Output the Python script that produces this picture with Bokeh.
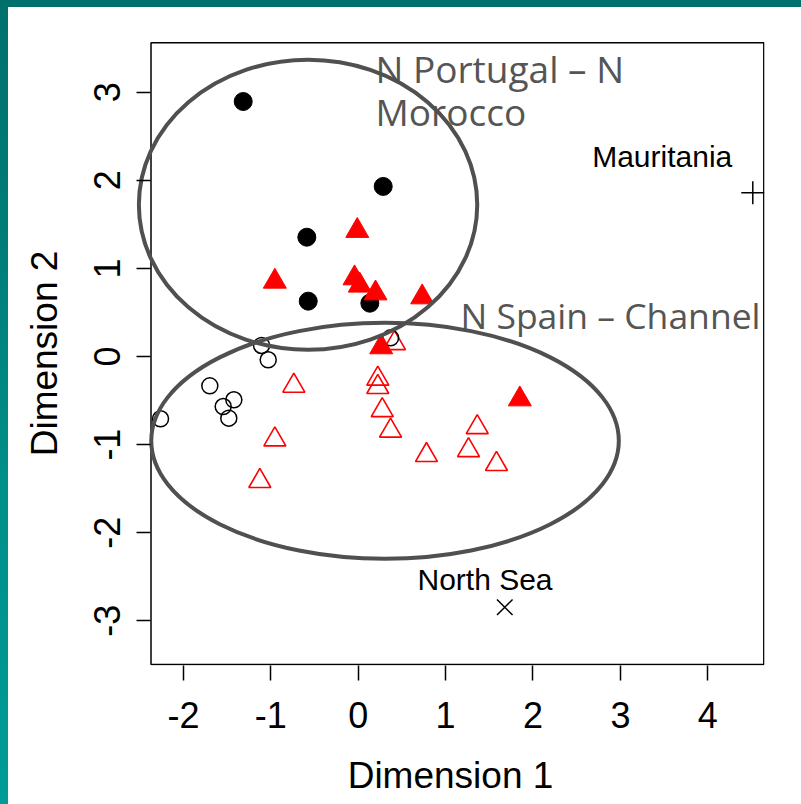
from bokeh.plotting import figure
from bokeh.layouts import column
from bokeh.models import Range1d
from bokeh.core.properties import value
from bokeh.embed import file_html
from bokeh.resources import INLINE

# Sample scores on the first two dimensions
filled_circle_x = [-1.316, 0.286, -0.588, -0.572, 0.133]
filled_circle_y = [2.894, 1.930, 1.354, 0.628, 0.605]

open_circle_x = [-1.106, -1.030, 0.370, -1.698, -1.423, -1.545, -1.481, -2.262]
open_circle_y = [0.125, -0.037, 0.212, -0.333, -0.491, -0.568, -0.700, -0.707]

filled_tri_x = [-0.011, -0.954, -0.042, 0.018, 0.198, 0.732, 0.263, 1.849]
filled_tri_y = [1.427, 0.851, 0.889, 0.806, 0.718, 0.673, 0.106, -0.485]

open_tri_x = [0.415, -0.737, 0.224, 0.224, 0.275, 0.370, -0.954, -1.126, 0.781, 1.362, 1.262, 1.582]
open_tri_y = [0.150, -0.333, -0.253, -0.348, -0.610, -0.843, -0.942, -1.415, -1.120, -0.803, -1.064, -1.222]

mauritania_x, mauritania_y = [4.515], [1.858]
north_sea_x, north_sea_y = [1.677], [-2.846]

# Group ellipses: centre and full widths/heights
ellipse_cx = [-0.574, 0.307]
ellipse_cy = [1.722, -0.957]
ellipse_w = [3.872, 5.350]
ellipse_h = [3.292, 2.678]

x_ticks = [-2, -1, 0, 1, 2, 3, 4]
y_ticks = [-3, -2, -1, 0, 1, 2, 3]

# Plot region (the boxed area); the canvas frame reaches a little further left
# so the upper ellipse can run past the box edge
box_left, box_right = -2.371, 4.641
box_bottom, box_top = -3.496, 3.561

p = figure(width=793, height=797, output_backend="svg", toolbar_location=None,
           x_range=Range1d(-2.537, 4.649), y_range=Range1d(-3.507, 3.575),
           min_border_left=128, min_border_right=37, min_border_top=34, min_border_bottom=139)

p.background_fill_color = "white"
p.border_fill_color = "white"
p.outline_line_color = None
p.grid.visible = False
p.styles = {"background-color": "white"}

font = "Liberation Sans"
for ax in (p.xaxis[0], p.yaxis[0]):
    ax.axis_line_color = None
    ax.minor_tick_line_color = None
    ax.major_tick_line_color = "black"
    ax.major_tick_line_width = 1.5
    ax.major_label_text_font = font
    ax.major_label_text_font_size = "36px"
    ax.major_label_text_color = "black"
    ax.axis_label_text_font = font
    ax.axis_label_text_font_size = "37px"
    ax.axis_label_text_font_style = "normal"
    ax.axis_label_text_color = "black"

p.xaxis.ticker = x_ticks
p.yaxis.ticker = y_ticks
p.xaxis.major_label_overrides = {t: str(t) for t in x_ticks}
p.yaxis.major_label_overrides = {t: str(t) for t in y_ticks}
p.xaxis.major_tick_out = 15
p.xaxis.major_tick_in = 0
p.yaxis.major_tick_out = 0
p.yaxis.major_tick_in = 14
p.xaxis.major_label_standoff = 21
p.yaxis.major_label_standoff = 16
p.yaxis.major_label_orientation = "vertical"
p.xaxis.axis_label = "Dimension 1"
p.yaxis.axis_label = "Dimension 2"
p.xaxis.axis_label_standoff = 24
p.yaxis.axis_label_standoff = 27

# Box around the plot region
p.quad(left=[box_left], right=[box_right], bottom=[box_bottom], top=[box_top],
       fill_color=None, line_color="black", line_width=1.5)

# Points
p.scatter(open_tri_x, open_tri_y, marker="triangle", size=22, fill_color=None,
          line_color="red", line_width=1.6)
p.scatter(open_circle_x, open_circle_y, marker="circle", size=16, fill_color=None,
          line_color="black", line_width=1.5)
p.scatter(filled_circle_x, filled_circle_y, marker="circle", size=18, fill_color="black",
          line_color="black")
p.scatter(filled_tri_x, filled_tri_y, marker="triangle", size=23, fill_color="red",
          line_color="red", line_width=1)
p.scatter(mauritania_x, mauritania_y, marker="cross", size=23, line_color="black", line_width=1.5)
p.scatter(north_sea_x, north_sea_y, marker="x", size=22, line_color="black", line_width=1.5)

# Outlier labels
p.text([2.677], [2.267], text=["Mauritania"], text_font=value(font), text_font_size="30px",
       text_color="black", text_baseline="alphabetic", text_align="left")
p.text([0.678], [-2.530], text=["North Sea"], text_font=value(font), text_font_size="30px",
       text_color="black", text_baseline="alphabetic", text_align="left")

# Group labels
group_font = "Open Sans"
p.text([0.198, 0.198], [3.265, 2.781], text=["N Portugal \u2013 N", "Morocco"],
       text_font=value(group_font), text_font_size="37px", text_color="#555555",
       text_baseline="alphabetic", text_align="left")
p.text([1.17], [0.473], text=["N Spain \u2013 Channel"],
       text_font=value(group_font), text_font_size="35.5px", text_color="#555555",
       text_baseline="alphabetic", text_align="left")

# Group ellipses
p.ellipse(ellipse_cx, ellipse_cy, width=ellipse_w, height=ellipse_h,
          fill_color=None, line_color="#505050", line_width=4)

# Slide frame: teal bar along the top and a teal band down the left side
page = column(p, styles={
    "padding": "7px 0px 0px 8px",
    "background": "linear-gradient(to bottom, #00706d 0%, #007d78 30%, #008f89 60%, #009c96 100%)",
})

open("out.html", "w").write(file_html(page, INLINE))
